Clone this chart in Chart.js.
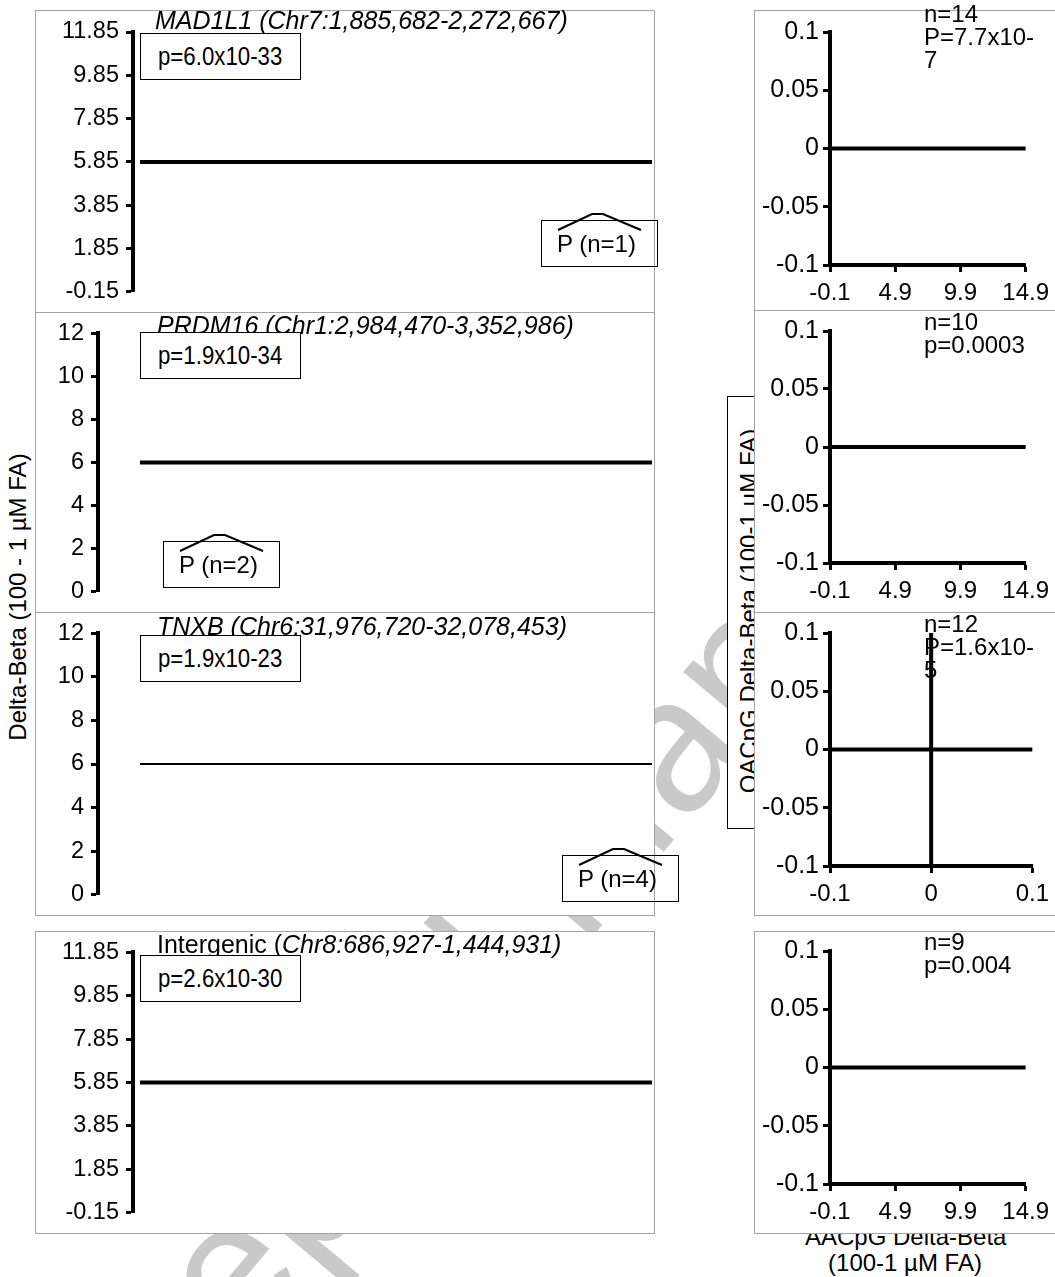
<!DOCTYPE html>
<html>
<head>
<meta charset="utf-8">
<title>Delta-Beta by region</title>
<script src="https://cdn.jsdelivr.net/npm/chart.js@4.4.1/dist/chart.umd.min.js"></script>
<style>
  html, body { margin: 0; padding: 0; background: #fff; }
  body { width: 1055px; height: 1277px; position: relative; overflow: hidden;
         font-family: "Liberation Sans", Arial, sans-serif; color: #000; }
  .abs { position: absolute; white-space: nowrap; }
  .frame { position: absolute; box-sizing: border-box; border: 1px solid #a3a3a3; background: #fff; z-index: 2; }
  canvas.panel { position: absolute; z-index: 3; }
  .watermark { position: absolute; z-index: 0; color: #c9c9c9; font-size: 190px; line-height: 1;
               white-space: nowrap; transform-origin: 0 161px; }
  .title { z-index: 4; font-size: 25px; line-height: 24px; }
  .title i { font-style: italic; }
  .pbox { z-index: 5; box-sizing: border-box; border: 1px solid #000; background: #fff;
          width: 161px; height: 47px; font-size: 25px; line-height: 45px; padding-left: 17px; }
  .pbox span { display: inline-block; transform: scaleX(0.89); transform-origin: 0 50%; }
  .promoter { z-index: 6; box-sizing: border-box; border: 1px solid #000; width: 117px; height: 47px;
              font-size: 24px; line-height: 45px; padding-left: 15px; }
  .promoter svg { position: absolute; left: -1px; top: -1px; overflow: visible; }
  .note { z-index: 5; font-size: 24px; line-height: 23px; }
  .ytitle { z-index: 1; font-size: 24px; line-height: 24px; text-align: center; transform: rotate(-90deg); }
  .oacbox { z-index: 1; box-sizing: border-box; border: 1px solid #000; background: #fff; }
  .xtitle { z-index: 1; font-size: 24px; line-height: 24px; text-align: center; }
</style>
</head>
<body>

<div class="watermark abs" id="wm">Accepted Manuscript</div>

<div class="ytitle abs" style="left:-182px; top:585px; width:400px;">Delta-Beta (100 - 1 µM FA)</div>
<div class="oacbox abs" style="left:727px; top:396px; width:40px; height:433px;"></div>
<div class="ytitle abs" style="left:549px; top:599px; width:400px; z-index:1;">OACpG Delta-Beta (100-1 µM FA)</div>
<div class="xtitle abs" style="left:805px; top:1225px; width:200px;">AACpG Delta-Beta</div>
<div class="xtitle abs" style="left:805px; top:1251px; width:200px;">(100-1 µM FA)</div>

<div id="stage"></div>

<script>
// ---- values ----
const regionNames = ["MAD1L1", "PRDM16", "TNXB", "Intergenic"];
const regionLoci = ["Chr7:1,885,682-2,272,667", "Chr1:2,984,470-3,352,986",
                    "Chr6:31,976,720-32,078,453", "Chr8:686,927-1,444,931"];
const regionPValues = ["p=6.0x10-33", "p=1.9x10-34", "p=1.9x10-23", "p=2.6x10-30"];
const promoterLabels = ["P (n=1)", "P (n=2)", "P (n=4)", ""];
const regionDeltaBeta = [5.85, 6, 6, 5.85];

const offsetTicks = [-0.15, 1.85, 3.85, 5.85, 7.85, 9.85, 11.85];
const offsetTickLabels = ["-0.15", "1.85", "3.85", "5.85", "7.85", "9.85", "11.85"];
const evenTicks = [0, 2, 4, 6, 8, 10, 12];
const evenTickLabels = ["0", "2", "4", "6", "8", "10", "12"];

const oacTicks = [-0.1, -0.05, 0, 0.05, 0.1];
const oacTickLabels = ["-0.1", "-0.05", "0", "0.05", "0.1"];
const aacWideTicks = [-0.1, 4.9, 9.9, 14.9];
const aacWideTickLabels = ["-0.1", "4.9", "9.9", "14.9"];
const aacNarrowTicks = [-0.1, 0, 0.1];
const aacNarrowTickLabels = ["-0.1", "0", "0.1"];

const oacDeltaBeta = [0, 0, 0, 0];
const aacDeltaBeta = [null, null, 0, null];
const sampleCounts = ["n=14", "n=10", "n=12", "n=9"];
const correlationP = [["P=7.7x10-", "7"], ["p=0.0003"], ["P=1.6x10-", "5"], ["p=0.004"]];

// ---- layout ----
const leftFrames = [
  { x: 35, y: 10,  w: 620, h: 303, axisX: 133, top: 22, bottom: 20, ticks: "offset", lineW: 4, xmin: -0.0137 },
  { x: 35, y: 312, w: 620, h: 301, axisX: 98,  top: 21, bottom: 19, ticks: "even",   lineW: 4, xmin: -0.082 },
  { x: 35, y: 612, w: 620, h: 304, axisX: 98,  top: 21, bottom: 21, ticks: "even",   lineW: 2, xmin: -0.082 },
  { x: 35, y: 931, w: 620, h: 303, axisX: 133, top: 20, bottom: 21, ticks: "offset", lineW: 4, xmin: -0.0137 }
];
const titleSpots = [[155, 8], [157, 313], [157, 614], [157, 932]];
const pBoxSpots = [[140, 33], [140, 332], [140, 635], [140, 955]];
const promoterSpots = [[541, 220], [163, 541], [562, 855], null];

const rightFrames = [
  { y: 10,  h: 301, top: 22, xh: 46, right: 30, wide: true },
  { y: 310, h: 303, top: 21, xh: 50, right: 30, wide: true },
  { y: 612, h: 304, top: 21, xh: 50, right: 23, wide: false },
  { y: 931, h: 303, top: 20, xh: 50, right: 30, wide: true }
];
const noteTops = [2, 310, 612, 930];

Chart.defaults.font.family = "'Liberation Sans', Arial, sans-serif";
Chart.defaults.font.size = 24;
Chart.defaults.color = "#000";

const stage = document.getElementById("stage");

function el(tag, cls, css, html) {
  const e = document.createElement(tag);
  if (cls) e.className = cls;
  if (css) e.style.cssText = css;
  if (html !== undefined) e.innerHTML = html;
  stage.appendChild(e);
  return e;
}

function axisStyle(values, labels, extra, fontSize, pad) {
  return Object.assign({
    type: "linear",
    min: values[0],
    max: values[values.length - 1],
    afterBuildTicks: s => { s.ticks = values.map(v => ({ value: v })); },
    ticks: {
      autoSkip: false, maxRotation: 0, padding: pad, font: { size: fontSize },
      callback: v => labels[values.indexOf(v)] ?? ""
    },
    grid: { display: true, drawOnChartArea: false, drawTicks: true,
            tickLength: 7, tickWidth: 3, tickColor: "#000", color: "#000" },
    border: { display: true, width: 4, color: "#000" }
  }, extra || {});
}

const baseOptions = {
  responsive: false, animation: false, events: [],
  plugins: { legend: { display: false }, tooltip: { enabled: false } },
  elements: { point: { radius: 0 }, line: { tension: 0 } }
};

// ---- left column: region delta-beta ----
leftFrames.forEach((f, i) => {
  el("div", "frame", `left:${f.x}px;top:${f.y}px;width:${f.w}px;height:${f.h}px;`);
  const c = el("canvas", "panel", `left:${f.x}px;top:${f.y}px;`);
  c.width = f.w; c.height = f.h;
  const vals = f.ticks === "offset" ? offsetTicks : evenTicks;
  const labs = f.ticks === "offset" ? offsetTickLabels : evenTickLabels;
  new Chart(c, {
    type: "line",
    data: { datasets: [{
      data: [{ x: 0, y: regionDeltaBeta[i] }, { x: 1, y: regionDeltaBeta[i] }],
      borderColor: "#000", borderWidth: f.lineW, clip: false, borderCapStyle: "butt"
    }] },
    options: Object.assign({}, baseOptions, {
      layout: { padding: { top: f.top, bottom: f.bottom, right: 3, left: 0 } },
      scales: {
        x: { type: "linear", display: false, min: f.xmin, max: 1 },
        y: axisStyle(vals, labs, { afterFit: s => { s.width = f.axisX - f.x; } }, 23.5, 7)
      }
    })
  });

  const name = regionNames[i];
  const titleHtml = i === 3
    ? `${name} (<i>${regionLoci[i]})</i>`
    : `<i>${name} (${regionLoci[i]})</i>`;
  el("div", "title abs", `left:${titleSpots[i][0]}px;top:${titleSpots[i][1]}px;`, titleHtml);
  el("div", "pbox abs", `left:${pBoxSpots[i][0]}px;top:${pBoxSpots[i][1]}px;`, `<span>${regionPValues[i]}</span>`);

  if (promoterSpots[i]) {
    const b = el("div", "promoter abs", `left:${promoterSpots[i][0]}px;top:${promoterSpots[i][1]}px;`, promoterLabels[i]);
    b.insertAdjacentHTML("beforeend",
      '<svg width="117" height="47"><polyline points="17,10 51,-6 62,-6 100,10" fill="none" stroke="#000" stroke-width="2.2"/></svg>');
  }
});

// ---- right column: OACpG vs AACpG ----
rightFrames.forEach((f, i) => {
  const x = 754, w = 302;
  el("div", "frame", `left:${x}px;top:${f.y}px;width:${w}px;height:${f.h}px;`);
  const c = el("canvas", "panel", `left:${x}px;top:${f.y}px;`);
  c.width = w; c.height = f.h;
  const xv = f.wide ? aacWideTicks : aacNarrowTicks;
  const xl = f.wide ? aacWideTickLabels : aacNarrowTickLabels;
  const xFirst = xv[0], xLast = xv[xv.length - 1];
  const sets = [{
    data: [{ x: xFirst, y: oacDeltaBeta[i] }, { x: xLast, y: oacDeltaBeta[i] }],
    borderColor: "#000", borderWidth: 4, clip: false, borderCapStyle: "butt"
  }];
  if (aacDeltaBeta[i] !== null) {
    sets.push({
      data: [{ x: aacDeltaBeta[i], y: oacTicks[0] }, { x: aacDeltaBeta[i], y: oacTicks[oacTicks.length - 1] }],
      borderColor: "#000", borderWidth: 4, clip: false, borderCapStyle: "butt"
    });
  }
  new Chart(c, {
    type: "line",
    data: { datasets: sets },
    options: Object.assign({}, baseOptions, {
      layout: { padding: { top: f.top, bottom: 0, right: f.right, left: 0 } },
      scales: {
        x: axisStyle(xv, xl, { position: "bottom", afterFit: s => { s.height = f.xh; } }, 24, 7),
        y: axisStyle(oacTicks, oacTickLabels, { afterFit: s => { s.width = 830 - x; } }, 25, 4)
      }
    })
  });
  const lines = [sampleCounts[i]].concat(correlationP[i]).join("<br>");
  el("div", "note abs", `left:924px;top:${noteTops[i]}px;`, lines);
});

// watermark placement along its slanted baseline
const wm = document.getElementById("wm");
wm.style.left = "39px";
wm.style.top = (1596 - 161) + "px";
wm.style.transform = "rotate(-50deg)";
</script>
</body>
</html>
